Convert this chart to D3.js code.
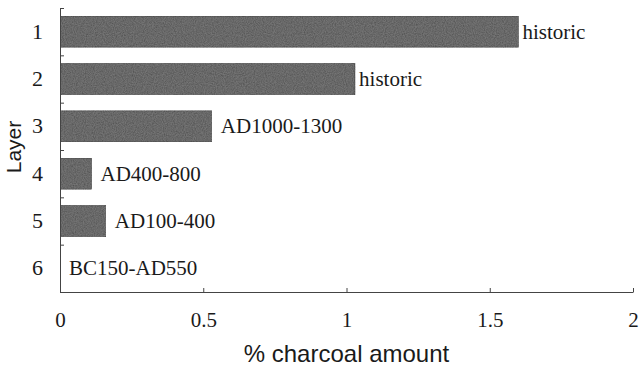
<!DOCTYPE html>
<html>
<head>
<meta charset="utf-8">
<script src="https://cdn.jsdelivr.net/npm/d3@7"></script>
<style>
  body { margin: 0; background: #fff; }
  text { fill: #1a1a1a; }
</style>
</head>
<body>
<div id="chart"></div>
<script>
// layers (top to bottom), charcoal %, and the age label next to each bar
const layers = ["1", "2", "3", "4", "5", "6"];
const charcoal = [1.6, 1.03, 0.53, 0.11, 0.16, 0];
const ages = ["historic", "historic", "AD1000-1300", "AD400-800", "AD100-400", "BC150-AD550"];
const xTicks = [0, 0.5, 1, 1.5, 2];

const width = 639, height = 368;
const margin = { top: 8, right: 6, bottom: 76, left: 60 };

const svg = d3.select("#chart").append("svg")
    .attr("width", width)
    .attr("height", height);

// grainy fill like the printed bars
const filt = svg.append("defs").append("filter").attr("id", "grain")
    .attr("x", 0).attr("y", 0).attr("width", 1).attr("height", 1);
filt.append("feTurbulence").attr("type", "fractalNoise")
    .attr("baseFrequency", 0.9).attr("numOctaves", 2).attr("seed", 3).attr("result", "n");
filt.append("feColorMatrix").attr("in", "n").attr("type", "matrix")
    .attr("values", "0.8 0 0 0 0.4  0.8 0 0 0 0.4  0.8 0 0 0 0.4  0 0 0 0 1")
    .attr("result", "g");
filt.append("feBlend").attr("in", "SourceGraphic").attr("in2", "g").attr("mode", "multiply").attr("result", "b");
filt.append("feComposite").attr("in", "b").attr("in2", "SourceGraphic").attr("operator", "in");

const x = d3.scaleLinear()
    .domain([0, 2])
    .range([margin.left, width - margin.right]);

const y = d3.scaleBand()
    .domain(layers)
    .range([margin.top, height - margin.bottom])
    .paddingInner(0.34)
    .paddingOuter(0.17);

// boundary ticks on the layer axis
const yEdge = d3.scaleLinear().domain([0, layers.length]).range(y.range());

const serif = "'Liberation Serif', 'Times New Roman', serif";
const sans = "'Liberation Sans', Arial, sans-serif";

// bars
svg.append("g").selectAll("rect")
    .data(charcoal)
    .join("rect")
    .attr("x", x(0))
    .attr("y", (d, i) => y(layers[i]))
    .attr("width", d => x(d) - x(0))
    .attr("height", y.bandwidth())
    .attr("fill", "#747474")
    .attr("stroke", "#3c3c3c")
    .attr("stroke-width", 0.8)
    .attr("filter", "url(#grain)")
    .style("display", d => d > 0 ? null : "none");

// age labels
svg.append("g").selectAll("text")
    .data(ages)
    .join("text")
    .attr("x", (d, i) => x(charcoal[i]) + (i < 2 ? 4 : 9))
    .attr("y", (d, i) => y(layers[i]) + y.bandwidth() / 2)
    .attr("dy", "0.33em")
    .style("font-family", serif)
    .style("font-size", "21px")
    .text(d => d);

// y axis
const yAxis = svg.append("g")
    .attr("transform", `translate(${margin.left},0)`)
    .call(d3.axisRight(yEdge).ticks(layers.length).tickSize(4).tickSizeOuter(0).tickFormat(""));
yAxis.selectAll("path, line").attr("stroke", "#444");

const yLab = svg.append("g")
    .attr("transform", `translate(${margin.left},0)`)
    .call(d3.axisLeft(y).tickSize(0).tickPadding(17));
yLab.select(".domain").remove();
yLab.selectAll("text")
    .style("font-family", serif)
    .style("font-size", "22px");

// x axis
const xAxis = svg.append("g")
    .attr("transform", `translate(0,${height - margin.bottom})`)
    .call(d3.axisBottom(x).tickValues(xTicks).tickFormat(d => String(d))
        .tickSizeInner(-4).tickSizeOuter(0).tickPadding(20));
xAxis.selectAll("path, line").attr("stroke", "#444");
xAxis.selectAll("text")
    .style("font-family", serif)
    .style("font-size", "21px");

// axis titles
svg.append("text")
    .attr("x", (x(0) + x(2)) / 2)
    .attr("y", 362)
    .attr("text-anchor", "middle")
    .style("font-family", sans)
    .style("font-size", "24px")
    .text("% charcoal amount");

svg.append("text")
    .attr("transform", `translate(21,${(y.range()[0] + y.range()[1]) / 2 - 3}) rotate(-90)`)
    .attr("text-anchor", "middle")
    .style("font-family", sans)
    .style("font-size", "21px")
    .text("Layer");
</script>
</body>
</html>
